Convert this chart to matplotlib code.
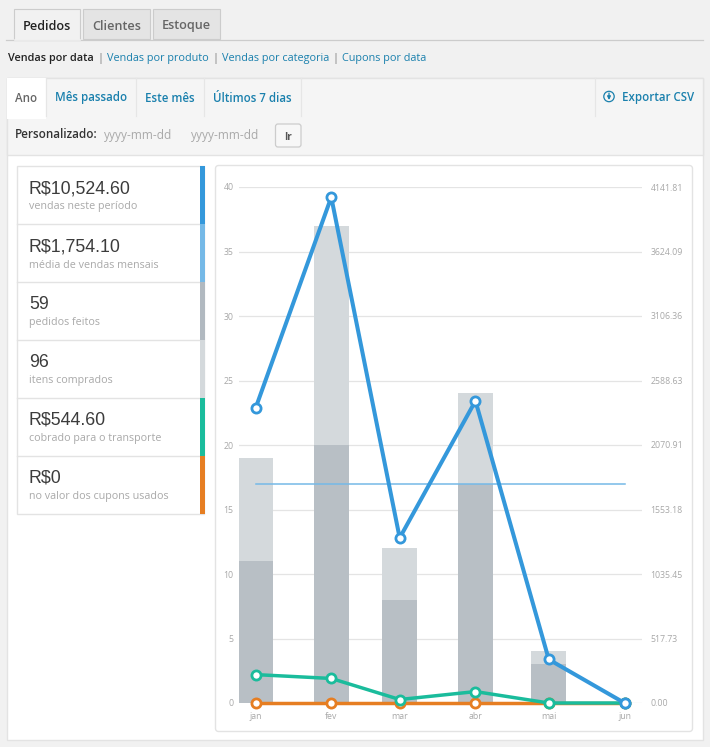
"""
WooCommerce-style sales report screenshot rebuilt with matplotlib.
"""

import matplotlib
matplotlib.use('Agg')  # Non-interactive backend
import matplotlib.pyplot as plt
import matplotlib.dates as mdates
from matplotlib.patches import Circle, FancyBboxPatch, Rectangle
import pandas as pd

plt.rcParams['font.family'] = ['Open Sans', 'DejaVu Sans']

# Chart data
months = ['jan', 'fev', 'mar', 'abr', 'mai', 'jun']
month_dates = ['2015-01-01', '2015-02-01', '2015-03-01', '2015-04-01', '2015-05-01', '2015-06-01']
items_bought = [19, 37, 12, 24, 4]
orders_placed = [11, 20, 8, 17, 3]
sales_amount = [2365, 4060, 1325, 2425, 349.6, 0]
shipping_amount = [228, 197, 28, 91.6, 0, 0]
coupon_amount = [0, 0, 0, 0, 0, 0]
average_sales = [1754.10, 1754.10]
left_ticks = [0, 5, 10, 15, 20, 25, 30, 35, 40]
right_labels = ['0.00', '517.73', '1035.45', '1553.18', '2070.91',
                '2588.63', '3106.36', '3624.09', '4141.81']

# Page text
main_tabs = ['Pedidos', 'Clientes', 'Estoque']
sub_links = ['Vendas por produto', 'Vendas por categoria', 'Cupons por data']
range_tabs = ['Mês passado', 'Este mês', 'Últimos 7 dias']
stat_values = ['R$10,524.60', 'R$1,754.10', '59', '96', 'R$544.60', 'R$0']
stat_labels = ['vendas neste período', 'média de vendas mensais', 'pedidos feitos',
               'itens comprados', 'cobrado para o transporte', 'no valor dos cupons usados']

# Colours
BLUE = '#3498db'
LIGHT_BLUE = '#75b9e7'
DARK_GREY = '#b8bfc5'
LIGHT_GREY = '#d4d9dc'
GREEN = '#1abc9c'
ORANGE = '#e67e22'
BORDER = '#e3e3e3'
LINK = '#1a80ad'
MUTED = '#a9a9a9'
stat_colors = [BLUE, LIGHT_BLUE, '#b1b9c0', LIGHT_GREY, GREEN, ORANGE]

W, H = 710, 747
fig = plt.figure(figsize=(W / 100, H / 100), dpi=100, facecolor='#f1f1f1')

# Page layer, in pixel coordinates
ui = fig.add_axes([0, 0, 1, 1])
ui.set_xlim(0, W)
ui.set_ylim(H, 0)
ui.axis('off')


def box(x0, y0, x1, y1, face, edge='none', lw=1.0, z=1):
    ui.add_patch(Rectangle((x0, y0), x1 - x0, y1 - y0, facecolor=face, edgecolor=edge, linewidth=lw, zorder=z))


def label(x, y, s, color='#444444', size=8.6, weight='normal', ha='left', family=None):
    ui.text(x, y, s, color=color, fontsize=size, fontweight=weight, ha=ha, va='center_baseline', zorder=6,
            family=family if family else ['Open Sans', 'DejaVu Sans'])


# Top tabs
ui.plot([6, 703], [39.5, 39.5], color='#cccccc', lw=0.9, zorder=1)
tab_spans = [(14, 80), (83, 150), (153, 220)]
tab_text_colors = ['#222222', '#666666', '#666666']
for i, (name, (x0, x1)) in enumerate(zip(main_tabs, tab_spans)):
    box(x0, 8.5, x1, 40 if i == 0 else 39, '#f1f1f1' if i == 0 else '#e4e4e4', '#cccccc', 0.8, z=2)
    label((x0 + x1) / 2, 24.5, name, tab_text_colors[i], 9.1, 'semibold', ha='center')
ui.plot([14.5, 79.5], [40, 40], color='#f1f1f1', lw=1.2, zorder=3)

# Sub navigation
label(8, 57.5, 'Vendas por data', '#222222', 7.8, 'semibold')
for x, name in zip([107, 222, 342], sub_links):
    label(x, 57.5, name, LINK, 7.8)
for x in [100.5, 215.5, 335.5]:
    label(x, 57, '|', '#777777', 8.0, ha='center')

# Main panel
box(7, 78, 703, 740, 'white', BORDER, 1.0)
box(7, 78, 703, 155, '#f5f5f5', BORDER, 1.0, z=2)
box(7, 78, 46, 119, 'white', z=3)
for x in [46, 136, 203.5, 300.5, 594.5]:
    ui.plot([x, x], [78, 116], color='#e6e6e6', lw=0.9, zorder=3)
label(15, 96.5, 'Ano', '#666666', 8.3, 'semibold')
for x, name in zip([55, 145, 213], range_tabs):
    label(x, 96.5, name, LINK, 8.3, 'semibold')
label(622, 96.5, 'Exportar CSV', LINK, 8.3, 'semibold')
ui.add_patch(Circle((609, 96.5), 5.2, facecolor='none', edgecolor=LINK, linewidth=0.9, zorder=5))
ui.annotate('', xy=(609, 100), xytext=(609, 93), zorder=5,
            arrowprops=dict(arrowstyle='-|>', color=LINK, lw=0.9, mutation_scale=5, shrinkA=0, shrinkB=0))

label(15, 133.5, 'Personalizado:', '#333333', 8.4, 'semibold')
label(104, 133.5, 'yyyy-mm-dd', MUTED, 8.6)
label(191, 133.5, 'yyyy-mm-dd', MUTED, 8.6)
ui.add_patch(FancyBboxPatch((275.5, 124), 25.5, 23, boxstyle='round,pad=0,rounding_size=2.5',
                            facecolor='#f7f7f7', edgecolor='#cccccc', linewidth=0.9, zorder=4))
label(288, 136, 'Ir', '#555555', 7.2, 'bold', ha='center')

# Stats column
row_h = 58
row_top = 165.5
box(17, row_top, 204, row_top + row_h * 6 + 0.5, 'white', BORDER, 1.0, z=2)
for i, (value, text, color) in enumerate(zip(stat_values, stat_labels, stat_colors)):
    y0 = row_top + i * row_h
    if i > 0:
        ui.plot([17, 200], [y0, y0], color=BORDER, lw=1.0, zorder=3)
    box(200, y0, 204.5, y0 + row_h, color, z=4)
    label(29, y0 + 21, value, '#3c3c3c', 12.8, family=['Liberation Sans'])
    label(29, y0 + 40, text, MUTED, 7.75)

# Chart card
ui.add_patch(FancyBboxPatch((215.5, 165.5), 477, 566, boxstyle='round,pad=0,rounding_size=3',
                            facecolor='white', edgecolor=BORDER, linewidth=1.0, zorder=2))

# Chart axes: x spans 238.5-641.5 px, y spans 703-187 px
ax = fig.add_axes([238.5 / W, 1 - 703 / H, 403 / W, 516 / H], facecolor='none')
dates = mdates.date2num(pd.to_datetime(month_dates))
px_per_day = 2.444
ax.set_xlim(dates[0] - 17 / px_per_day, dates[0] + 386 / px_per_day)
ax.set_ylim(0, 40)
ax.bar(dates[:5], items_bought, width=35 / px_per_day, color=LIGHT_GREY, zorder=2)
ax.bar(dates[:5], orders_placed, width=35 / px_per_day, color=DARK_GREY, zorder=3)
ax.set_yticks(left_ticks)
ax.set_xticks(dates)
ax.set_xticklabels(months)
ax.grid(axis='y', color='#e4e4e4', linewidth=0.9, zorder=1)
ax.set_axisbelow(True)
ax.tick_params(axis='both', length=0, labelsize=6.3, labelcolor='#a8a8a8')
ax.tick_params(axis='x', pad=6.5)
ax.tick_params(axis='y', pad=3.5)
for spine in ax.spines.values():
    spine.set_visible(False)

# Amount lines use the right-hand scale
ax2 = ax.twinx()
ax2.set_ylim(0, 4141.81)
ax2.set_yticks([float(v) for v in right_labels])
ax2.set_yticklabels(right_labels)
ax2.tick_params(axis='y', length=0, labelsize=6.3, labelcolor='#a8a8a8', pad=6.5)
for spine in ax2.spines.values():
    spine.set_visible(False)

marker_style = dict(marker='o', markersize=6.6, markerfacecolor='white', markeredgewidth=2.0, clip_on=False)
ax2.plot(dates[[0, 5]], average_sales, color=LIGHT_BLUE, lw=1.1, zorder=3, clip_on=False)
ax2.plot(dates, coupon_amount, color=ORANGE, lw=2.5, markeredgecolor=ORANGE, zorder=4, **marker_style)
ax2.plot(dates, shipping_amount, color=GREEN, lw=2.5, markeredgecolor=GREEN, zorder=5, **marker_style)
ax2.plot(dates, sales_amount, color=BLUE, lw=2.9, markeredgecolor=BLUE, zorder=6, **marker_style)

fig.savefig('out.png', dpi=100, facecolor=fig.get_facecolor())
plt.close(fig)
